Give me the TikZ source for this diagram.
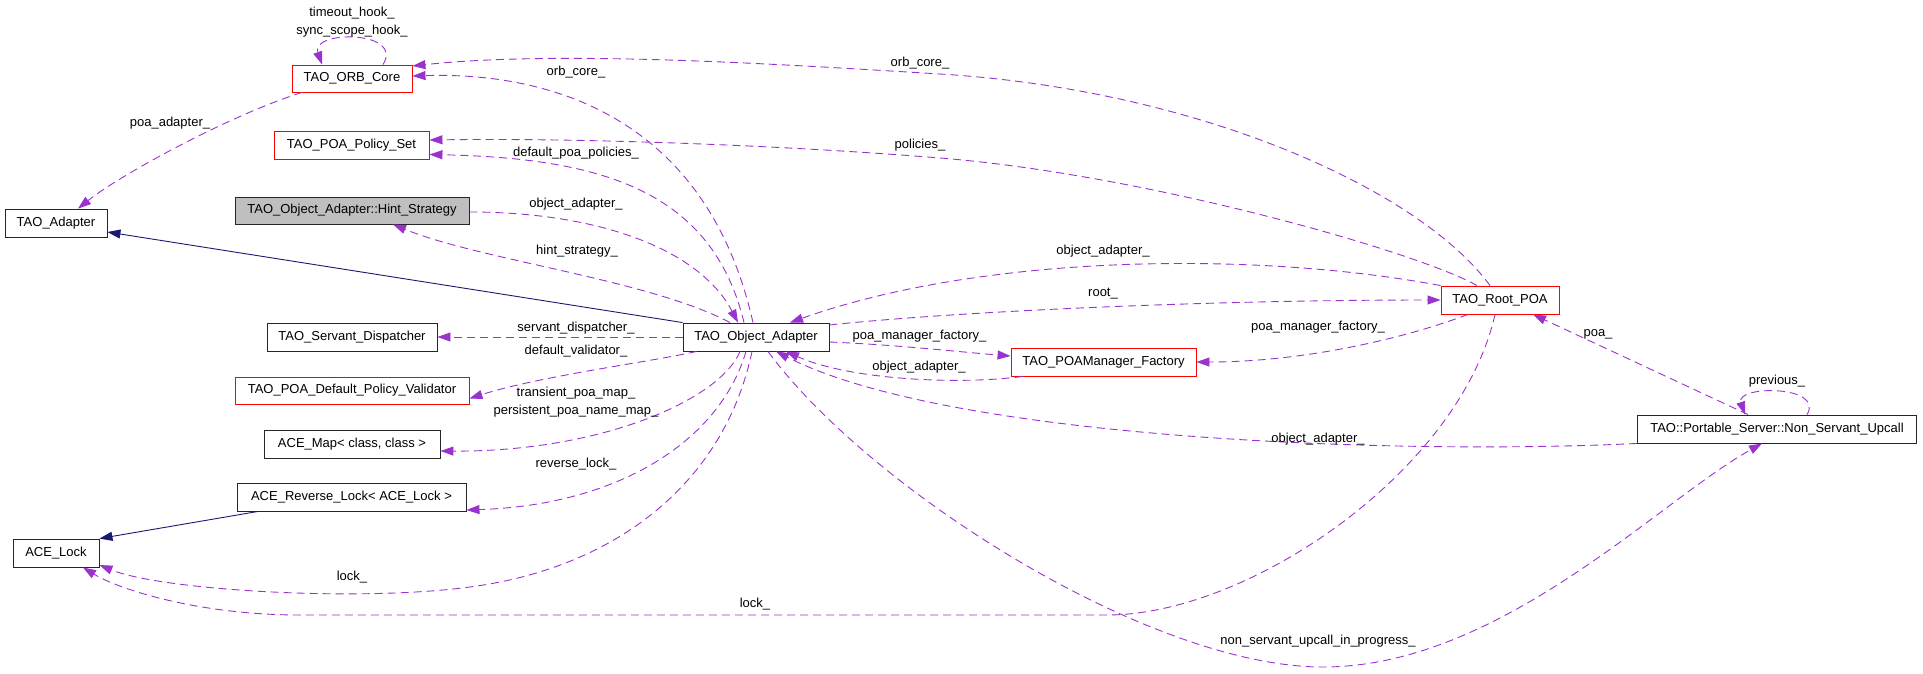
\documentclass[tikz,border=0pt]{standalone}
\usepackage{fontspec}
\setmainfont{Liberation Sans}
\usetikzlibrary{arrows.meta}
\definecolor{orchid}{HTML}{9A32CD}
\definecolor{navyb}{HTML}{191970}
\definecolor{hintgray}{HTML}{BFBFBF}
\begin{document}
\begin{tikzpicture}[x=1pt,y=-1pt,
  cls/.style={draw=black!85,line width=0.9pt,inner sep=0pt,minimum height=28pt,font=\fontsize{13}{15}\selectfont,fill=white},
  redcls/.style={cls,draw=red},
  lbl/.style={inner sep=0pt,font=\fontsize{13}{15}\selectfont},
  dep/.style={draw=orchid,line width=0.9pt,dash pattern=on 8pt off 5pt,-{Triangle[length=13pt,width=9pt]}},
  inh/.style={draw=navyb,line width=0.9pt,-{Triangle[length=13pt,width=9pt]}}]
\useasboundingbox (0,0) rectangle (1923,673);
% nodes
\node[redcls,minimum width=120pt,minimum height=27pt] (orb) at (352,78.5) {TAO\_ORB\_Core};
\node[redcls,minimum width=155pt] (pset) at (351.5,145) {TAO\_POA\_Policy\_Set};
\node[cls,fill=hintgray,minimum width=234pt,minimum height=27pt] (hint) at (352,210.5) {TAO\_Object\_Adapter::Hint\_Strategy};
\node[cls,minimum width=102pt] (adapter) at (56,223) {TAO\_Adapter};
\node[cls,minimum width=170pt] (sd) at (352,337) {TAO\_Servant\_Dispatcher};
\node[redcls,minimum width=234pt,minimum height=27pt] (dpv) at (352,390.5) {TAO\_POA\_Default\_Policy\_Validator};
\node[cls,minimum width=176pt] (map) at (352,444) {ACE\_Map< class, class >};
\node[cls,minimum width=229pt] (rlock) at (351.5,497) {ACE\_Reverse\_Lock< ACE\_Lock >};
\node[cls,minimum width=86pt] (lock) at (56,553) {ACE\_Lock};
\node[cls,minimum width=146pt] (oa) at (756,337) {TAO\_Object\_Adapter};
\node[redcls,minimum width=185pt] (pmf) at (1103.5,362) {TAO\_POAManager\_Factory};
\node[redcls,minimum width=118pt] (root) at (1500,300) {TAO\_Root\_POA};
\node[cls,minimum width=279pt] (nsu) at (1777,429) {TAO::Portable\_Server::Non\_Servant\_Upcall};
% inheritance
\draw[inh] (oa.north west) -- ([yshift=-9pt]adapter.east);
\draw[inh] ([xshift=-93.5pt]rlock.south) -- (lock.north east);
% ORB core self loop
\draw[dep] ([xshift=31pt]orb.north) .. controls (405,30) and (310,30) .. ([xshift=-30pt]orb.north);
\node[lbl] (l1) at (352,13) {timeout\_hook\_};
\node[lbl] (l2) at (352,31) {sync\_scope\_hook\_};
% poa_adapter_
\draw[dep] ([xshift=-50pt]orb.south) .. controls (230,115) and (120,175) .. ([xshift=22pt]adapter.north);
\node[lbl] (l3) at (170,123) {poa\_adapter\_};
% orb_core_ from oa
\draw[dep] ([xshift=-3pt]oa.north) .. controls (705,110) and (540,72) .. ([yshift=2.5pt]orb.east);
\node[lbl] (l4) at (576,72) {orb\_core\_};
% orb_core_ from root
\draw[dep] ([xshift=-10pt]root.north) .. controls (1420,190) and (1200,90) .. (940,74)
  .. controls (780,64.2) and (560,50) .. ([yshift=12.5pt]orb.east);
\node[lbl] (l5) at (920,63) {orb\_core\_};
% policies_
\draw[dep] ([xshift=-23pt]root.north) .. controls (1420,253) and (1150,175) .. (940,158)
  .. controls (760,143.4) and (560,138) .. ([yshift=5pt]pset.east);
\node[lbl] (l6) at (920,145) {policies\_};
% default_poa_policies_
\draw[dep] ([xshift=-12pt]oa.north) .. controls (712,190) and (600,158) .. ([yshift=-9.5pt]pset.east);
\node[lbl] (l7) at (576,153) {default\_poa\_policies\_};
% hint_strategy_
\draw[dep] ([xshift=-26pt]oa.north) .. controls (650,280) and (480,260) .. ([xshift=41pt]hint.south);
\node[lbl] (l8) at (577,251) {hint\_strategy\_};
% object_adapter_ from hint
\draw[dep] ([yshift=-1.5pt]hint.east) .. controls (600,212) and (700,250) .. ([xshift=-18pt]oa.north);
\node[lbl] (l9) at (576,204) {object\_adapter\_};
% servant_dispatcher_
\draw[dep] (oa.west) -- (sd.east);
\node[lbl] (l10) at (576,328) {servant\_dispatcher\_};
% default_validator_
\draw[dep] ([xshift=14pt]oa.south west) .. controls (650,362) and (540,376) .. ([yshift=-8pt]dpv.east);
\node[lbl] (l11) at (576,351) {default\_validator\_};
% maps
\draw[dep] ([xshift=-16pt]oa.south) .. controls (720,400) and (600,452) .. ([yshift=-7pt]map.east);
\node[lbl] (l12) at (576,393) {transient\_poa\_map\_};
\node[lbl] (l13) at (576,411) {persistent\_poa\_name\_map\_};
% reverse_lock_
\draw[dep] ([xshift=-10pt]oa.south) .. controls (720,440) and (620,505) .. ([yshift=-13pt]rlock.east);
\node[lbl] (l14) at (576,464) {reverse\_lock\_};
% lock_ from oa
\draw[dep] ([xshift=-4pt]oa.south) .. controls (725,480) and (620,565) .. (477,586)
  .. controls (363,603) and (160,590) .. ([yshift=-12pt]lock.east);
\node[lbl] (l15) at (352,577) {lock\_};
% lock_ from root
\draw[dep] ([xshift=-5pt]root.south) .. controls (1460,470) and (1250,615) .. (1107,615)
  -- (300,615) .. controls (200,615) and (120,590) .. ([xshift=27pt]lock.south);
\node[lbl] (l16) at (755,604) {lock\_};
% root_
\draw[dep] ([yshift=12pt]oa.east) .. controls (950,312) and (1200,300) .. (root.west);
\node[lbl] (l17) at (1103,294) {root\_};
% object_adapter_ from root
\draw[dep] (root.north west) .. controls (1250,250) and (980,255) .. ([xshift=34pt]oa.north);
\node[lbl] (l18) at (1103,251) {object\_adapter\_};
% poa_manager_factory_ from oa
\draw[dep] ([yshift=-5pt]oa.east) .. controls (900,345) and (960,352) .. ([yshift=6pt]pmf.west);
\node[lbl] (l19) at (919.5,336) {poa\_manager\_factory\_};
% object_adapter_ from pmf
\draw[dep] ([xshift=-81pt]pmf.south) .. controls (960,385) and (850,380) .. ([xshift=30pt]oa.south);
\node[lbl] (l20) at (919,367) {object\_adapter\_};
% poa_manager_factory_ from root
\draw[dep] ([xshift=-32pt]root.south) .. controls (1400,340) and (1300,362) .. (pmf.east);
\node[lbl] (l21) at (1318,327) {poa\_manager\_factory\_};
% poa_
\draw[dep] ([xshift=-29pt]nsu.north) -- ([xshift=33pt]root.south);
\node[lbl] (l22) at (1598,334) {poa\_};
% previous_
\draw[dep] ([xshift=30pt]nsu.north) .. controls (1825,385) and (1735,385) .. ([xshift=-32pt]nsu.north);
\node[lbl] (l23) at (1777,381) {previous\_};
% object_adapter_ from nsu
\draw[dep] (nsu.south west) .. controls (1400,455) and (950,440) .. ([xshift=20pt]oa.south);
\node[lbl] (l24) at (1318,439) {object\_adapter\_};
% non_servant_upcall_in_progress_
\draw[dep] ([xshift=12pt]oa.south) .. controls (870,490) and (1150,667) .. (1323,667)
  .. controls (1500,667) and (1660,500) .. ([xshift=-15pt]nsu.south);
\node[lbl] (l25) at (1318,641) {non\_servant\_upcall\_in\_progress\_};
\end{tikzpicture}
\end{document}
